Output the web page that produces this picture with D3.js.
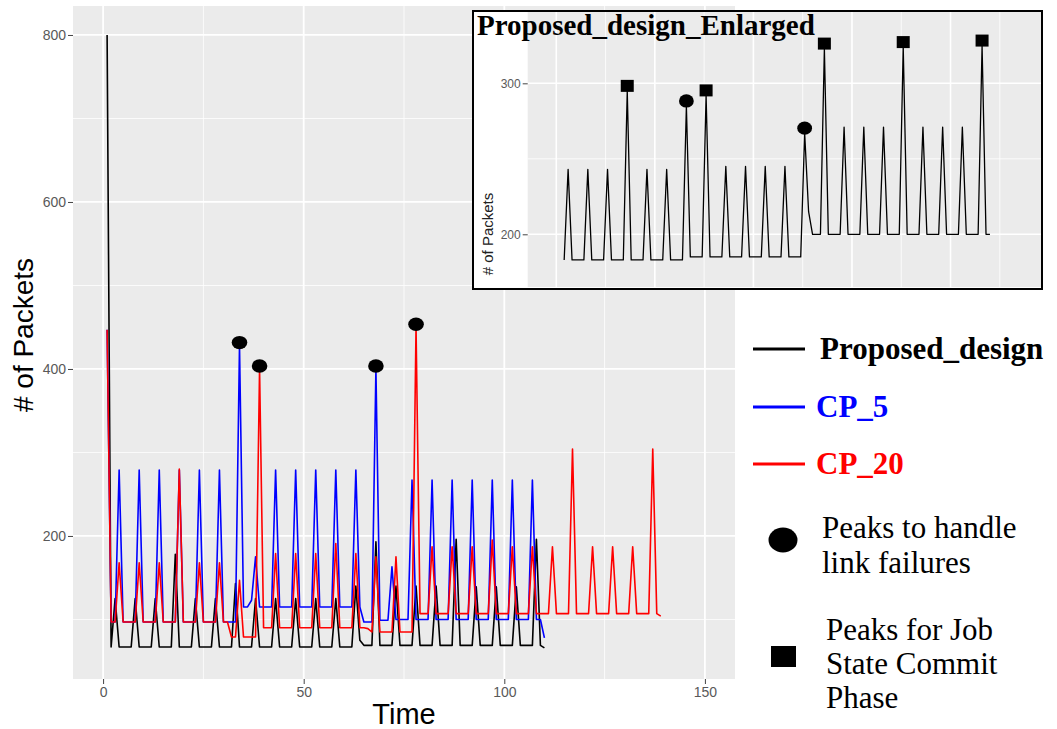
<!DOCTYPE html>
<html>
<head>
<meta charset="utf-8">
<script src="https://cdnjs.cloudflare.com/ajax/libs/d3/7.8.5/d3.min.js"></script>
<style>
body { margin: 0; background: #fff; }
svg { display: block; }
.axis text { font-family: "Liberation Sans", Arial, sans-serif; fill: #595959; }
.axis line { stroke: #444; }
.serif { font-family: "Liberation Serif", "Times New Roman", serif; }
</style>
</head>
<body>
<svg id="chart" width="1057" height="729"></svg>
<script>

// values, one per time step
var proposedStart = 1;
var proposedDesign = [800, 67,
  125, 67, 67, 67, 67,   125, 67, 67, 67, 67,   125, 67, 67, 67, 67,   178, 67, 67, 67, 67,
  125, 67, 67, 67, 67,   125, 67, 67, 67, 67,   143, 67, 67, 67, 67,   125, 67, 67, 67, 67,
  125, 67, 67, 67, 67,   125, 67, 67, 67, 67,   125, 67, 67, 67, 67,   125, 67, 67, 67, 67,
  140, 75, 69, 69, 69,   193, 69, 69, 69, 69,   140, 69, 69, 69, 69,   140, 69, 69, 69, 69,
  140, 69, 69, 69, 69,   196, 69, 69, 69, 69,   139, 69, 69, 69, 69,   139, 69, 69, 69, 69,
  139, 69, 69, 69, 69,   196, 69, 66];

var cp5Start = 1;
var cp5 = [447, 97, 97,
  279, 97, 97, 97, 97,   279, 97, 97, 97, 97,   279, 97, 97, 97, 97,   279, 97, 97, 97, 97,
  279, 97, 97, 97, 97,   279, 97, 97, 97, 97,   428, 115, 115, 123, 175,  115, 115, 115, 115,
  279, 115, 115, 115, 115,   279, 115, 115, 115, 115,   279, 115, 115, 115, 115,
  279, 115, 115, 115, 115,   279, 115, 97, 97, 97,   400, 99, 99, 99,
  163, 100, 100, 100, 100,   267, 100, 100, 100, 100,   267, 100, 100, 100, 100,
  267, 100, 100, 100, 100,   267, 100, 100, 100, 100,   267, 100, 100, 100, 100,
  267, 100, 100, 100, 100,   267, 100, 100, 78];

var cp20Start = 1;
var cp20 = [447, 97, 97,
  168, 97, 97, 97, 97,   168, 97, 97, 97, 97,   168, 97, 97, 97, 97,   280, 97, 97, 97, 97,
  168, 97, 97, 97, 97,   168, 97, 97, 79, 79,   147, 79, 79, 79, 79,   400, 90, 90, 90,
  179, 90, 90, 90, 90,   179, 90, 90, 90, 90,   179, 90, 90, 90, 90,   191, 90, 90, 90, 90,
  179, 90, 90, 89, 85,   175, 85, 85, 85, 85,   175, 85, 85, 85, 85,   450, 107, 107, 107,
  187, 107, 107, 107, 107,   187, 107, 107, 107, 107,   187, 107, 107, 107, 107,
  195, 107, 107, 107, 107,   187, 107, 107, 107, 107,   187, 107, 107, 107, 107,
  187, 107, 107, 107, 107,   304, 107, 107, 107, 107,   187, 107, 107, 107, 107,
  187, 107, 107, 107, 107,   187, 107, 107, 107, 107,   304, 107, 104];

var enlargedStart = 2;
var enlarged = [183,
  243, 183, 183, 183, 183,   243, 183, 183, 183, 183,   243, 183, 183, 183, 183,
  295, 183, 183, 183, 183,   243, 183, 183, 183, 183,   243, 183, 183, 183, 183,
  285, 185, 185, 185, 185,   292, 185, 185, 185, 185,   245, 185, 185, 185, 185,
  245, 185, 185, 185, 185,   245, 185, 185, 185, 185,   245, 185, 185, 185, 185,
  267, 215, 200, 200, 200,   323, 200, 200, 200, 200,   271, 200, 200, 200, 200,
  271, 200, 200, 200, 200,   271, 200, 200, 200, 200,   324, 200, 200, 200, 200,
  271, 200, 200, 200, 200,   271, 200, 200, 200, 200,   271, 200, 200, 200, 200,
  325, 200, 200];

// marked peaks (time steps)
var failurePeaks = [{series: "cp5", t: 34}, {series: "cp20", t: 39}, {series: "cp5", t: 68}, {series: "cp20", t: 78}];
var insetFailurePeaks = [33, 63];
var insetCommitPeaks = [18, 38, 68, 88, 108];

// ticks
var yTicks = [200, 400, 600, 800];
var yMinor = [100, 300, 500, 700];
var xTicks = [0, 50, 100, 150];
var xMinor = [25, 75, 125];
var insetYTicks = [200, 300];
var insetYMinor = [250];
var insetXGrid = [0, 25, 50, 75, 100];
var insetXMinor = [12.5, 37.5, 62.5, 87.5, 112.5];

var legendNames = ["Proposed_design", "CP_5", "CP_20"];
var legendColors = ["#000000", "#0000ff", "#ff0000"];

var seriesList = [
  {key: "proposed", values: proposedDesign, start: proposedStart, color: "#000000"},
  {key: "cp5", values: cp5, start: cp5Start, color: "#0000ff"},
  {key: "cp20", values: cp20, start: cp20Start, color: "#ff0000"}
];

var svg = d3.select("#chart");

// ---------- main plot ----------
var mLeft = 73, mRight = 735, mTop = 6, mBottom = 679;

var x = d3.scaleLinear().domain([-7.5, 157.5]).range([mLeft, mRight]);
var y = d3.scaleLinear().domain([28.7, 834.7]).range([mBottom, mTop]);

svg.append("rect")
    .attr("x", mLeft).attr("y", mTop)
    .attr("width", mRight - mLeft).attr("height", mBottom - mTop)
    .attr("fill", "#ebebeb");

var grid = svg.append("g");
grid.selectAll(".ymin").data(yMinor).enter().append("line")
    .attr("x1", mLeft).attr("x2", mRight)
    .attr("y1", function(d) { return y(d); }).attr("y2", function(d) { return y(d); })
    .attr("stroke", "#fff").attr("stroke-width", 0.8);
grid.selectAll(".xmin").data(xMinor).enter().append("line")
    .attr("y1", mTop).attr("y2", mBottom)
    .attr("x1", function(d) { return x(d); }).attr("x2", function(d) { return x(d); })
    .attr("stroke", "#fff").attr("stroke-width", 0.8);
grid.selectAll(".ymaj").data(yTicks).enter().append("line")
    .attr("x1", mLeft).attr("x2", mRight)
    .attr("y1", function(d) { return y(d); }).attr("y2", function(d) { return y(d); })
    .attr("stroke", "#fff").attr("stroke-width", 1.8);
grid.selectAll(".xmaj").data(xTicks).enter().append("line")
    .attr("y1", mTop).attr("y2", mBottom)
    .attr("x1", function(d) { return x(d); }).attr("x2", function(d) { return x(d); })
    .attr("stroke", "#fff").attr("stroke-width", 1.8);

var yAxis = d3.axisLeft(y).tickValues(yTicks).tickSize(5).tickPadding(2);
var xAxis = d3.axisBottom(x).tickValues(xTicks).tickSize(5).tickPadding(3);

svg.append("g")
    .attr("class", "axis")
    .attr("transform", "translate(" + mLeft + ",0)")
    .call(yAxis)
    .call(function(g) { g.select(".domain").remove(); })
    .selectAll("text").attr("font-size", 14);

svg.append("g")
    .attr("class", "axis")
    .attr("transform", "translate(0," + mBottom + ")")
    .call(xAxis)
    .call(function(g) { g.select(".domain").remove(); })
    .selectAll("text").attr("font-size", 14);

svg.append("text")
    .attr("x", (mLeft + mRight) / 2).attr("y", 724)
    .attr("text-anchor", "middle")
    .attr("font-family", "Liberation Sans, Arial, sans-serif")
    .attr("font-size", 29)
    .text("Time");

svg.append("text")
    .attr("transform", "translate(33,335) rotate(-90)")
    .attr("text-anchor", "middle")
    .attr("font-family", "Liberation Sans, Arial, sans-serif")
    .attr("font-size", 28)
    .text("# of Packets");

svg.append("clipPath").attr("id", "mainClip")
  .append("rect").attr("x", mLeft).attr("y", mTop)
    .attr("width", mRight - mLeft).attr("height", mBottom - mTop);

var plot = svg.append("g").attr("clip-path", "url(#mainClip)");

seriesList.forEach(function(s) {
  var line = d3.line()
      .x(function(d, i) { return x(s.start + i); })
      .y(function(d) { return y(d); });
  plot.append("path")
      .datum(s.values)
      .attr("d", line)
      .attr("fill", "none")
      .attr("stroke", s.color)
      .attr("stroke-width", 1.6)
      .attr("stroke-linejoin", "round");
});

function valueAt(key, t) {
  var s = seriesList.filter(function(d) { return d.key == key; })[0];
  return s.values[t - s.start];
}

plot.selectAll(".fail").data(failurePeaks).enter().append("ellipse")
    .attr("cx", function(d) { return x(d.t); })
    .attr("cy", function(d) { return y(valueAt(d.series, d.t)) - 3; })
    .attr("rx", 7.8).attr("ry", 6.7)
    .attr("fill", "#000");

// ---------- inset ----------
var iBox = {left: 473, top: 11, right: 1042, bottom: 289};
var iLeft = 527.7, iBottom = 287;

var ix = d3.scaleLinear().domain([-7.25, 123.2]).range([iLeft, iBox.right]);
var iy = d3.scaleLinear().domain([165.1, 347.9]).range([iBottom, iBox.top]);

var inset = svg.append("g");
inset.append("rect")
    .attr("x", iBox.left).attr("y", iBox.top)
    .attr("width", iBox.right - iBox.left).attr("height", iBox.bottom - iBox.top)
    .attr("fill", "#fff");
inset.append("rect")
    .attr("x", iLeft).attr("y", iBox.top)
    .attr("width", iBox.right - iLeft).attr("height", iBottom - iBox.top)
    .attr("fill", "#ebebeb");

inset.selectAll(".iymin").data(insetYMinor).enter().append("line")
    .attr("x1", iLeft).attr("x2", iBox.right)
    .attr("y1", function(d) { return iy(d); }).attr("y2", function(d) { return iy(d); })
    .attr("stroke", "#fff").attr("stroke-width", 0.8);
inset.selectAll(".ixmin").data(insetXMinor).enter().append("line")
    .attr("y1", iBox.top).attr("y2", iBottom)
    .attr("x1", function(d) { return ix(d); }).attr("x2", function(d) { return ix(d); })
    .attr("stroke", "#fff").attr("stroke-width", 0.8);
inset.selectAll(".iymaj").data(insetYTicks).enter().append("line")
    .attr("x1", iLeft).attr("x2", iBox.right)
    .attr("y1", function(d) { return iy(d); }).attr("y2", function(d) { return iy(d); })
    .attr("stroke", "#fff").attr("stroke-width", 1.6);
inset.selectAll(".ixmaj").data(insetXGrid).enter().append("line")
    .attr("y1", iBox.top).attr("y2", iBottom)
    .attr("x1", function(d) { return ix(d); }).attr("x2", function(d) { return ix(d); })
    .attr("stroke", "#fff").attr("stroke-width", 1.6);

inset.append("g")
    .attr("class", "axis")
    .attr("transform", "translate(" + iLeft + ",0)")
    .call(d3.axisLeft(iy).tickValues(insetYTicks).tickSize(5).tickPadding(2))
    .call(function(g) { g.select(".domain").remove(); })
    .selectAll("text").attr("font-size", 12);

inset.append("text")
    .attr("transform", "translate(493,234) rotate(-90)")
    .attr("text-anchor", "middle")
    .attr("font-family", "Liberation Sans, Arial, sans-serif")
    .attr("font-size", 15)
    .attr("fill", "#222")
    .text("# of Packets");

var insetLine = d3.line()
    .x(function(d, i) { return ix(enlargedStart + i); })
    .y(function(d) { return iy(d); });

inset.append("path")
    .datum(enlarged)
    .attr("d", insetLine)
    .attr("fill", "none")
    .attr("stroke", "#000")
    .attr("stroke-width", 1.3)
    .attr("stroke-linejoin", "round");

inset.selectAll(".icirc").data(insetFailurePeaks).enter().append("ellipse")
    .attr("cx", function(d) { return ix(d); })
    .attr("cy", function(d) { return iy(enlarged[d - enlargedStart]) - 5; })
    .attr("rx", 7.4).attr("ry", 6.6)
    .attr("fill", "#000");

inset.selectAll(".isq").data(insetCommitPeaks).enter().append("rect")
    .attr("x", function(d) { return ix(d) - 6.5; })
    .attr("y", function(d) { return iy(enlarged[d - enlargedStart]) - 11; })
    .attr("width", 13).attr("height", 12)
    .attr("fill", "#000");

inset.append("text")
    .attr("class", "serif")
    .attr("x", 477).attr("y", 35)
    .attr("font-size", 29)
    .attr("font-weight", "bold")
    .text("Proposed_design_Enlarged");

inset.append("rect")
    .attr("x", iBox.left).attr("y", iBox.top)
    .attr("width", iBox.right - iBox.left).attr("height", iBox.bottom - iBox.top)
    .attr("fill", "none")
    .attr("stroke", "#000")
    .attr("stroke-width", 2);

// ---------- legend ----------
var legendY = [349, 407, 464];
var legend = svg.append("g");

legend.selectAll(".lline").data(legendNames).enter().append("line")
    .attr("x1", 753).attr("x2", 805)
    .attr("y1", function(d, i) { return legendY[i]; })
    .attr("y2", function(d, i) { return legendY[i]; })
    .attr("stroke", function(d, i) { return legendColors[i]; })
    .attr("stroke-width", 3.2);

legend.selectAll(".ltext").data(legendNames).enter().append("text")
    .attr("class", "serif")
    .attr("x", function(d, i) { return i == 0 ? 820 : 816; })
    .attr("y", function(d, i) { return legendY[i] + 10; })
    .attr("font-size", 31)
    .attr("font-weight", "bold")
    .attr("fill", function(d, i) { return legendColors[i]; })
    .text(function(d) { return d; });

legend.append("ellipse")
    .attr("cx", 783).attr("cy", 540)
    .attr("rx", 14.5).attr("ry", 12.5)
    .attr("fill", "#000");

legend.append("rect")
    .attr("x", 771).attr("y", 646)
    .attr("width", 25).attr("height", 21)
    .attr("fill", "#000");

var failText = ["Peaks to handle", "link failures"];
var commitText = ["Peaks for Job", "State Commit", "Phase"];

legend.selectAll(".ftext").data(failText).enter().append("text")
    .attr("class", "serif")
    .attr("x", 822)
    .attr("y", function(d, i) { return 538 + i * 35; })
    .attr("font-size", 31)
    .text(function(d) { return d; });

legend.selectAll(".ctext").data(commitText).enter().append("text")
    .attr("class", "serif")
    .attr("x", 826)
    .attr("y", function(d, i) { return 640 + i * 34; })
    .attr("font-size", 31)
    .text(function(d) { return d; });

</script>
</body>
</html>
